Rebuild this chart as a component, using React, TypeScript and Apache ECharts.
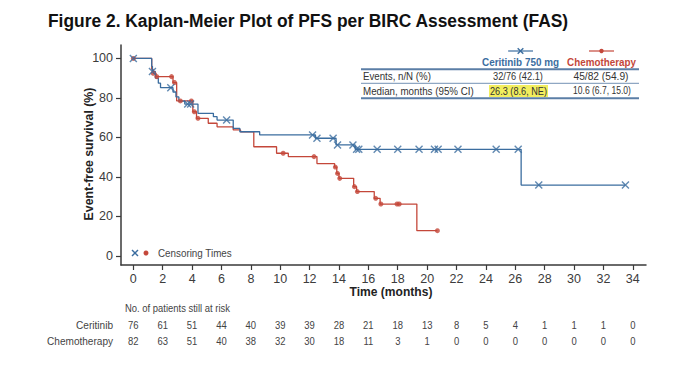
import React, { useEffect, useRef } from "react";
import * as echarts from "echarts";

// ---------- data ----------
const titleText = "Figure 2. Kaplan-Meier Plot of PFS per BIRC Assessment (FAS)";
const xTicks = [0, 2, 4, 6, 8, 10, 12, 14, 16, 18, 20, 22, 24, 26, 28, 30, 32, 34];
const yTicks = [0, 20, 40, 60, 80, 100];

// survival steps: [time (months), survival % after the step]
const ceritinibSteps: [number, number][] = [
  [0, 100], [1.25, 96], [1.3, 93.4], [1.5, 90], [1.7, 87.5], [1.85, 85.2],
  [2.7, 83], [2.9, 80.5], [3.1, 78.4], [3.5, 76.9], [4.4, 72.2], [5.45, 70.5],
  [5.7, 68.8], [6.8, 64.6], [7.25, 62.9], [8.6, 61.3], [12.4, 59.6], [13.8, 56.2],
  [15.1, 54.0], [26.4, 35.9], [33.5, 35.9],
];
const ceritinibCensor: [number, number][] = [
  [0, 100], [1.3, 93.4], [2.55, 85.2], [3.7, 76.9], [3.9, 76.9], [6.35, 68.8],
  [12.2, 61.3], [12.5, 59.6], [13.6, 59.6], [13.9, 56.2], [14.95, 56.2],
  [15.2, 54], [15.35, 54], [16.6, 54], [18.0, 54], [19.45, 54], [20.5, 54],
  [20.75, 54], [22.1, 54], [24.7, 54], [26.2, 54], [27.6, 35.9], [33.5, 35.9],
];
const chemoSteps: [number, number][] = [
  [0, 100], [1.25, 94.5], [1.35, 92.5], [1.55, 90.8], [2.7, 87.8], [2.95, 78.5],
  [4.05, 73], [4.3, 69.7], [5.1, 67.2], [5.7, 65.4], [6.8, 63.8], [7.3, 62.9],
  [8.2, 55.3], [9.75, 52], [10.55, 50.3], [12.5, 46.8], [13.7, 45], [13.85, 41.8],
  [14.0, 39.3], [15.0, 35.1], [15.2, 32.6], [16.4, 29.2], [16.8, 26.3],
  [19.3, 12.8], [20.7, 12.8],
];
const chemoCensor: [number, number][] = [
  [0, 100], [1.35, 92.5], [1.6, 90.8], [2.6, 90.8], [2.8, 87.8], [3.2, 78.5],
  [3.95, 78.5], [4.15, 73], [4.4, 69.7], [10.2, 52], [12.3, 50.3], [13.75, 45],
  [13.9, 41.8], [14.05, 39.3], [15.05, 35.1], [15.25, 32.6], [16.5, 29.2],
  [16.85, 26.3], [17.95, 26.3], [18.1, 26.3], [20.7, 12.8],
];

const riskTimes = xTicks;
const ceritinibRisk = [76, 61, 51, 44, 40, 39, 39, 28, 21, 18, 13, 8, 5, 4, 1, 1, 1, 0];
const chemoRisk = [82, 63, 51, 40, 38, 32, 30, 18, 11, 3, 1, 0, 0, 0, 0, 0, 0, 0];

const tableHeaders = ["Ceritinib 750 mg", "Chemotherapy"];
const tableRows = ["Events, n/N (%)", "Median, months (95% CI)"];
const tableCeritinib = ["32/76 (42.1)", "26.3 (8.6, NE)"];
const tableChemo = ["45/82 (54.9)", "10.6 (6.7, 15.0)"];

// ---------- styling ----------
const BLUE = "#3b6d9f";
const RED = "#c4473a";
const AXIS = "#3a3a3a";
const FONT = "'Liberation Sans', Arial, sans-serif";
const XMARK = "path://M0,0L10,10M10,0L0,10";

let measureCtx: CanvasRenderingContext2D | null = null;
function textWidth(text: string, size: number, weight: string) {
  if (!measureCtx) measureCtx = document.createElement("canvas").getContext("2d");
  measureCtx!.font = `${weight} ${size}px ${FONT}`;
  return measureCtx!.measureText(text).width;
}

function label(
  text: string,
  x: number,
  y: number,
  size: number,
  opts: { weight?: string; color?: string; align?: string; width?: number; scale?: number; rotation?: number } = {}
) {
  const weight = opts.weight || "normal";
  const sx = opts.width ? opts.width / textWidth(text, size, weight) : opts.scale || 1;
  return {
    type: "text",
    x,
    y,
    rotation: opts.rotation || 0,
    scaleX: sx,
    silent: true,
    style: {
      text,
      x: 0,
      y: 0,
      fontSize: size,
      fontWeight: weight,
      fontFamily: FONT,
      fill: opts.color || "#333",
      textAlign: opts.align || "left",
      textVerticalAlign: "middle",
    },
  };
}

function xMark(cx: number, cy: number, r: number, color: string) {
  return {
    type: "group",
    silent: true,
    children: [
      { type: "line", shape: { x1: cx - r, y1: cy - r, x2: cx + r, y2: cy + r }, style: { stroke: color, lineWidth: 1.4 } },
      { type: "line", shape: { x1: cx - r, y1: cy + r, x2: cx + r, y2: cy - r }, style: { stroke: color, lineWidth: 1.4 } },
    ],
  };
}

function hline(x1: number, x2: number, y: number, color: string, w: number) {
  return { type: "line", silent: true, shape: { x1, y1: y, x2, y2: y }, style: { stroke: color, lineWidth: w } };
}

export default function App() {
  const ref = useRef<HTMLDivElement>(null);

  useEffect(() => {
    document.body.style.margin = "0";
    const chart = echarts.init(ref.current!, undefined, { renderer: "svg" });

    const option: any = {
      animation: false,
      backgroundColor: "#ffffff",
      grid: { left: 121, right: 54, top: 45, bottom: 109 },
      xAxis: {
        type: "value",
        min: -0.84,
        max: 34.9,
        axisLine: { show: true, onZero: false, lineStyle: { color: AXIS, width: 1.5 } },
        axisTick: { show: true, customValues: xTicks, length: 5, lineStyle: { color: AXIS, width: 1.2 } },
        axisLabel: { customValues: xTicks, fontSize: 12.5, color: "#3c3c3c", margin: 7, fontFamily: FONT },
        splitLine: { show: false },
      },
      yAxis: {
        type: "value",
        min: -4.56,
        max: 106.8,
        axisLine: { show: true, onZero: false, lineStyle: { color: AXIS, width: 1.5 } },
        axisTick: { show: true, customValues: yTicks, length: 5, lineStyle: { color: AXIS, width: 1.2 } },
        axisLabel: { customValues: yTicks, fontSize: 12.5, color: "#3c3c3c", margin: 8, fontFamily: FONT },
        splitLine: { show: false },
      },
      series: [
        {
          name: "Chemotherapy",
          type: "line",
          step: "end",
          data: chemoSteps,
          showSymbol: false,
          symbol: "none",
          lineStyle: { color: RED, width: 1.3 },
          z: 2,
        },
        {
          name: "Ceritinib 750 mg",
          type: "line",
          step: "end",
          data: ceritinibSteps,
          showSymbol: false,
          symbol: "none",
          lineStyle: { color: BLUE, width: 1.3 },
          z: 3,
        },
        {
          name: "Chemotherapy censored",
          type: "scatter",
          data: chemoCensor,
          symbol: "circle",
          symbolSize: 5,
          itemStyle: { color: RED },
          z: 4,
        },
        {
          name: "Ceritinib censored",
          type: "scatter",
          data: ceritinibCensor,
          symbol: XMARK,
          symbolSize: 7,
          itemStyle: { color: "none", borderColor: BLUE, borderWidth: 1.4 },
          z: 5,
        },
      ],
    };
    chart.setOption(option);

    const gx = (t: number) => (chart.convertToPixel({ gridIndex: 0 }, [t, 0]) as number[])[0];

    const colA = 520.5;
    const colB = 601.5;
    const elements: any[] = [
      // title
      label(titleText, 48, 21, 19, { weight: "bold", color: "#111", width: 521 }),
      // axis names
      label("Event-free survival (%)", 89, 154, 12, { weight: "bold", color: "#222", width: 133, align: "center", rotation: Math.PI / 2 }),
      label("Time (months)", 391, 292, 12.5, { weight: "bold", color: "#222", width: 83, align: "center" }),
      // censoring legend
      xMark(135, 253, 3, BLUE),
      { type: "circle", silent: true, shape: { cx: 146, cy: 253, r: 2.5 }, style: { fill: RED } },
      label("Censoring Times", 158, 253, 11, { color: "#444", width: 74 }),
      // table
      hline(508, 533, 51, BLUE, 1.2),
      xMark(colA, 51, 2.8, BLUE),
      hline(589, 614, 51, RED, 1.2),
      { type: "circle", silent: true, shape: { cx: colB, cy: 51, r: 2.2 }, style: { fill: RED } },
      label(tableHeaders[0], colA, 62, 11, { weight: "bold", color: BLUE, width: 77, align: "center" }),
      label(tableHeaders[1], colB, 62, 11, { weight: "bold", color: RED, width: 69, align: "center" }),
      { type: "rect", silent: true, shape: { x: 489, y: 85, width: 59, height: 12 }, style: { fill: "#f2ee5e" } },
      hline(361, 639, 69.3, "#5b7ea6", 2),
      hline(361, 639, 83.3, "#7391b5", 1),
      hline(361, 639, 98.3, "#5b7ea6", 2),
      label(tableRows[0], 363, 76.5, 10, { color: "#333", width: 68 }),
      label(tableRows[1], 363, 91, 10, { color: "#333", width: 111 }),
      label(tableCeritinib[0], 518, 76.5, 10, { color: "#333", width: 50, align: "center" }),
      label(tableCeritinib[1], 518.5, 91, 10, { color: "#333", width: 57, align: "center" }),
      label(tableChemo[0], 601, 76.5, 10, { color: "#333", width: 55, align: "center" }),
      label(tableChemo[1], 602, 91, 10, { color: "#333", width: 58, align: "center" }),
      // risk table
      label("No. of patients still at risk", 125, 308, 10, { color: "#444", width: 105 }),
      label("Ceritinib", 113, 325, 10.5, { color: "#444", width: 37, align: "right" }),
      label("Chemotherapy", 113, 341, 10.5, { color: "#444", width: 66, align: "right" }),
    ];
    riskTimes.forEach((t, i) => {
      const px = gx(t);
      elements.push(label(String(ceritinibRisk[i]), px, 325, 10.5, { color: "#444", align: "center", scale: 0.9 }));
      elements.push(label(String(chemoRisk[i]), px, 341, 10.5, { color: "#444", align: "center", scale: 0.9 }));
    });

    chart.setOption({ graphic: { elements } });

    return () => {
      chart.dispose();
    };
  }, []);

  return (
    <div
      ref={ref}
      style={{ position: "fixed", left: 0, top: 0, width: 700, height: 374, background: "#fff" }}
    />
  );
}
